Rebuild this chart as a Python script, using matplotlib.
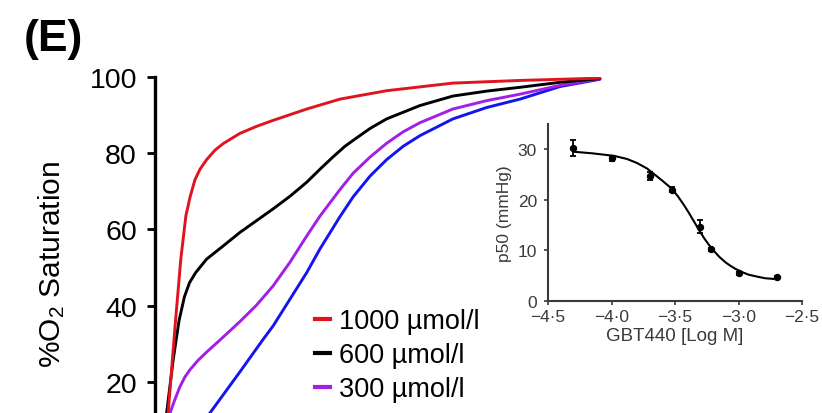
import matplotlib
matplotlib.use("Agg")
import matplotlib.pyplot as plt
from matplotlib.lines import Line2D

plt.rcParams['font.family'] = ['Liberation Sans', 'DejaVu Sans']
plt.rcParams['mathtext.fontset'] = 'custom'
plt.rcParams['mathtext.rm'] = 'Liberation Sans'
plt.rcParams['mathtext.it'] = 'Liberation Sans:italic'

# Oxygen equilibrium curves (pO2 in mmHg vs % O2 saturation)
red_po2 = [1.7, 4.4, 6.7, 8.6, 10.3, 11.7, 13.3, 15.0, 17.2, 20.0, 22.7, 28.3, 33.7, 39.3, 50.6, 61.7, 77.2, 99.3, 121.7, 148.3]
red_sat = [0, 12, 34.7, 52.2, 63.6, 68.5, 73.0, 75.8, 78.3, 80.8, 82.5, 85.2, 87.0, 88.6, 91.6, 94.2, 96.4, 98.4, 99.1, 99.7]

black_po2 = [1.7, 3.9, 6.1, 8.0, 9.8, 11.5, 13.5, 17.2, 22.8, 28.3, 39.4, 45.0, 50.6, 55.0, 59.3, 63.3, 66.1, 71.7, 77.2, 88.3, 99.3, 110.6, 121.7, 135.0, 148.3]
black_sat = [0, 12, 26, 36.0, 42.3, 46.0, 48.6, 52.2, 55.7, 59.2, 65.4, 68.7, 72.4, 75.8, 79.0, 81.8, 83.4, 86.5, 89.0, 92.5, 95.0, 96.3, 97.3, 98.6, 99.6]

purple_po2 = [2.7, 5.0, 6.7, 8.3, 10.0, 11.7, 14.3, 17.2, 21.7, 28.3, 33.7, 39.4, 45.0, 50.6, 55.0, 61.7, 66.1, 71.7, 77.2, 82.7, 88.3, 99.3, 110.6, 121.7, 135.0, 148.3]
purple_sat = [0, 11.8, 15.5, 18.7, 21.3, 23.2, 25.6, 27.8, 31.0, 35.8, 40.0, 45.2, 51.4, 58.3, 63.5, 70.5, 74.8, 79.0, 82.6, 85.6, 88.0, 91.6, 93.8, 95.5, 97.8, 99.5]

blue_po2 = [7.3, 18.3, 28.3, 36.1, 39.4, 50.6, 55.0, 61.7, 66.1, 71.7, 77.2, 82.7, 88.3, 99.3, 110.6, 121.7, 135.0, 148.3]
blue_sat = [0, 11.8, 22.6, 31.2, 34.7, 48.7, 54.9, 63.4, 68.6, 74.0, 78.3, 81.8, 84.6, 89.0, 92.0, 94.2, 97.5, 99.4]

legend_labels = ['1000 µmol/l', '600 µmol/l', '300 µmol/l']
main_yticks = [20, 40, 60, 80, 100]

# Inset: p50 vs GBT440 concentration
conc_log = [-4.30, -4.00, -3.70, -3.52, -3.30, -3.22, -3.00, -2.70]
p50 = [30.2, 28.2, 24.8, 22.0, 14.7, 10.2, 5.5, 4.7]
p50_err = [1.6, 0.5, 0.8, 0.5, 1.3, 0.3, 0.3, 0.3]

fit_x = [-4.29, -4.15, -3.98, -3.88, -3.80, -3.72, -3.66, -3.60, -3.53, -3.48, -3.43, -3.39, -3.35,
         -3.31, -3.27, -3.23, -3.19, -3.15, -3.10, -3.06, -3.02, -2.97, -2.92, -2.85, -2.79, -2.74, -2.70]
fit_y = [29.5, 29.2, 28.7, 28.1, 27.3, 26.2, 25.0, 23.8, 22.3, 20.8, 19.0, 17.4, 15.7,
         14.0, 12.4, 11.0, 9.8, 8.7, 7.6, 6.9, 6.3, 5.7, 5.2, 4.8, 4.5, 4.4, 4.3]

inset_xticks = [-4.5, -4.0, -3.5, -3.0, -2.5]
inset_xticklabels = ['\u22124\u00b75', '\u22124\u00b70', '\u22123\u00b75', '\u22123\u00b70', '\u22122\u00b75']
inset_yticks = [0, 10, 20, 30]

W, H = 822, 414
fig = plt.figure(figsize=(W / 100, H / 100), dpi=100)

# Main axes (lower part lies below the figure edge)
ax = fig.add_axes([155 / W, (H - 459) / H, 450 / W, 381 / H])
c_red, c_black, c_purple, c_blue = '#e0141e', '#000000', '#a21fe6', '#1414f0'
lw = 2.1
for xs, ys, c in [(blue_po2, blue_sat, c_blue), (purple_po2, purple_sat, c_purple),
                  (black_po2, black_sat, c_black), (red_po2, red_sat, c_red)]:
    ax.plot(xs, ys, color=c, lw=lw, solid_capstyle='round', solid_joinstyle='round')
ax.set_xlim(0, 150)
ax.set_ylim(0, 100)
for s in ['top', 'right', 'bottom']:
    ax.spines[s].set_visible(False)
ax.spines['left'].set_linewidth(2.4)
ax.spines['left'].set_capstyle('projecting')
ax.set_xticks([])
ax.set_yticks(main_yticks)
ax.tick_params(axis='y', length=6, width=2, pad=7, labelsize=20.5)
ax.set_ylabel('%O$_\\mathregular{2}$ Saturation', fontsize=21.5)
ax.yaxis.set_label_coords((52 - 155) / 450, (459 - 264) / 381)
ax.yaxis.label.set_verticalalignment('center')

handles = [Line2D([], [], color=c, lw=3) for c in (c_red, c_black, c_purple)]
fig.legend(handles, legend_labels, loc='upper left',
           bbox_to_anchor=(315 / W, 1 - 309 / H), bbox_transform=fig.transFigure,
           frameon=False, fontsize=19.5, handlelength=0.55, handletextpad=0.35,
           labelspacing=0.3, borderpad=0, borderaxespad=0)

fig.text(24 / W, 1 - 40 / H, '(E)', fontsize=32, fontweight='bold', ha='left', va='center')

# Inset axes
ins = fig.add_axes([548 / W, (H - 302) / H, 254 / W, 177 / H])
gray = '#3a3a3a'
ins.plot(fit_x, fit_y, color='black', lw=1.5, solid_joinstyle='round')
ins.errorbar(conc_log, p50, yerr=p50_err, fmt='o', color='black', ms=4.3, capsize=2.5,
             elinewidth=1.3, capthick=1.3)
ins.set_xlim(-4.5, -2.5)
ins.set_ylim(0, 35)
ins.set_xticks(inset_xticks)
ins.set_xticklabels(inset_xticklabels)
ins.set_yticks(inset_yticks)
for s in ['top', 'right']:
    ins.spines[s].set_visible(False)
for s in ['left', 'bottom']:
    ins.spines[s].set_linewidth(1.5)
    ins.spines[s].set_color(gray)
ins.tick_params(length=3, width=1.2, labelsize=12.5, colors=gray)
ins.tick_params(axis='x', pad=3)
ins.tick_params(axis='y', pad=5)
ins.set_xlabel('GBT440 [Log M]', fontsize=13.5, color=gray, labelpad=2)
ins.set_ylabel('p50 (mmHg)', fontsize=12.5, color=gray, labelpad=4)
ins.patch.set_alpha(0)

fig.savefig('out.png', dpi=100)
